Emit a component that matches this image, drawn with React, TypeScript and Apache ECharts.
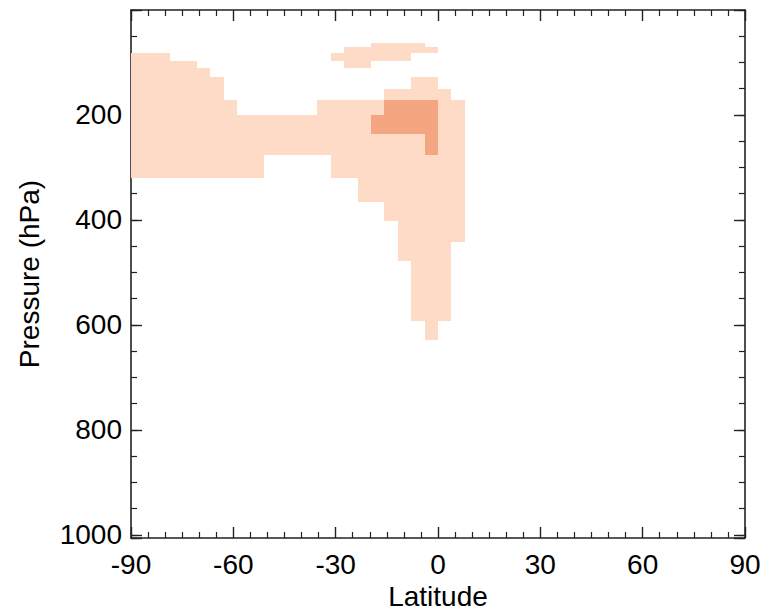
import { useEffect, useRef } from "react";
import * as echarts from "echarts";

// Axis definitions
const latMin = -90;
const latMax = 90;
const latInterval = 30;
const pressureMin = 0;
const pressureMax = 1006;
const pressureLabelTicks = [200, 400, 600, 800, 1000];

// Light shaded region, columns: [lat0, lat1, pressureTop, pressureBottom]
const lightColumns: number[][] = [
  [-90, -78.6, 81.6, 320],
  [-78.6, -70.7, 97.5, 320],
  [-70.7, -66.8, 110.8, 320],
  [-66.8, -62.7, 128, 320],
  [-62.7, -59.0, 171.3, 320],
  [-59.0, -51.0, 200.5, 320],
  [-51.0, -35.4, 200.5, 276.7],
  [-35.4, -31.4, 171.3, 276.7],
  [-31.4, -23.5, 171.3, 320],
  [-23.5, -15.7, 171.3, 366.5],
  [-15.7, -11.8, 150.9, 402.7],
  [-11.8, -7.9, 150.9, 478.4],
  [-7.9, -3.9, 128, 593.5],
  [-3.9, 0, 128, 629.7],
  [0, 3.9, 150.9, 593.5],
  [3.9, 7.9, 171.3, 442],
];

// Light shaded patch near the top: [lat0, lat1, pressureTop, pressureBottom]
const lightUpper: number[][] = [
  [-19.6, -3.8, 62.6, 70.8],
  [-27.5, 0, 70.8, 81.6],
  [-31.4, -7.9, 81.6, 97.5],
  [-27.5, -19.6, 97.5, 110.8],
];

// Darker shaded cells: [lat0, lat1, pressureTop, pressureBottom]
const darkCells: number[][] = [
  [-15.7, 0, 171.3, 200.5],
  [-19.6, 0, 200.5, 236.7],
  [-3.9, 0, 236.7, 276.7],
];

const LIGHT = "#fddbc7";
const DARK = "#f4a582";
const AXIS = "#222222";
const FONT = "'Liberation Sans', Arial, Helvetica, sans-serif";

function makeRender(color: string) {
  return (_params: any, api: any) => {
    const a = api.coord([api.value(0), api.value(2)]);
    const b = api.coord([api.value(1), api.value(3)]);
    const x0 = Math.round(Math.min(a[0], b[0]));
    const x1 = Math.round(Math.max(a[0], b[0]));
    const y0 = Math.round(Math.min(a[1], b[1]));
    const y1 = Math.round(Math.max(a[1], b[1]));
    return {
      type: "rect",
      shape: { x: x0, y: y0, width: x1 - x0, height: y1 - y0 },
      style: { fill: color },
    };
  };
}

export default function App() {
  const ref = useRef<HTMLDivElement>(null);
  useEffect(() => {
    if (!ref.current) return;
    const chart = echarts.init(ref.current, undefined, { renderer: "svg" });
    const baseY = {
      type: "value",
      inverse: true,
      min: pressureMin,
      max: pressureMax,
      splitLine: { show: false },
    };
    const tickX = (position: string, show: boolean) => ({
      type: "value",
      position,
      min: latMin,
      max: latMax,
      interval: latInterval,
      splitLine: { show: false },
      axisLine: { show: true, onZero: false, lineStyle: { color: AXIS, width: 1.6 } },
      axisTick: { show: true, inside: true, length: 11, lineStyle: { color: AXIS, width: 1.4 } },
      minorTick: { show: true, splitNumber: 6, length: 6, lineStyle: { color: AXIS, width: 1.2 } },
      axisLabel: show
        ? { show: true, fontSize: 28, fontFamily: FONT, color: "#000", margin: 12 }
        : { show: false },
      name: show ? "Latitude" : "",
      nameLocation: "middle",
      nameGap: 43,
      nameTextStyle: { fontSize: 28, fontFamily: FONT, color: "#000" },
    });
    chart.setOption({
      animation: false,
      backgroundColor: "#ffffff",
      grid: { left: 131, right: 35, top: 10, bottom: 78, containLabel: false },
      xAxis: [tickX("bottom", true), tickX("top", false)],
      yAxis: [
        {
          ...baseY,
          position: "left",
          interval: 200,
          axisLine: { show: true, onZero: false, lineStyle: { color: AXIS, width: 1.6 } },
          axisTick: { show: true, inside: true, length: 11, lineStyle: { color: AXIS, width: 1.4 } },
          axisLabel: {
            show: true,
            fontSize: 28,
            fontFamily: FONT,
            color: "#000",
            margin: 9,
            formatter: (v: number) => (pressureLabelTicks.includes(v) ? String(v) : ""),
          },
          name: "Pressure (hPa)",
          nameLocation: "middle",
          nameGap: 88,
          nameTextStyle: { fontSize: 28, fontFamily: FONT, color: "#000" },
        },
        {
          ...baseY,
          position: "left",
          interval: 50,
          axisLine: { show: false, onZero: false },
          axisTick: { show: true, inside: true, length: 6, lineStyle: { color: AXIS, width: 1.2 } },
          axisLabel: { show: false },
        },
        {
          ...baseY,
          position: "right",
          interval: 200,
          axisLine: { show: true, onZero: false, lineStyle: { color: AXIS, width: 1.6 } },
          axisTick: { show: true, inside: true, length: 11, lineStyle: { color: AXIS, width: 1.4 } },
          axisLabel: { show: false },
        },
        {
          ...baseY,
          position: "right",
          interval: 50,
          axisLine: { show: false, onZero: false },
          axisTick: { show: true, inside: true, length: 6, lineStyle: { color: AXIS, width: 1.2 } },
          axisLabel: { show: false },
        },
      ],
      series: [
        {
          type: "custom",
          name: "light",
          xAxisIndex: 0,
          yAxisIndex: 0,
          clip: true,
          renderItem: makeRender(LIGHT),
          encode: { x: [0, 1], y: [2, 3] },
          data: [...lightColumns, ...lightUpper],
          z: 1,
        },
        {
          type: "custom",
          name: "dark",
          xAxisIndex: 0,
          yAxisIndex: 0,
          clip: true,
          renderItem: makeRender(DARK),
          encode: { x: [0, 1], y: [2, 3] },
          data: darkCells,
          z: 2,
        },
      ],
    });
    return () => chart.dispose();
  }, []);
  return (
    <div
      ref={ref}
      style={{ position: "absolute", left: 0, top: 0, width: 780, height: 616, background: "#fff" }}
    />
  );
}
